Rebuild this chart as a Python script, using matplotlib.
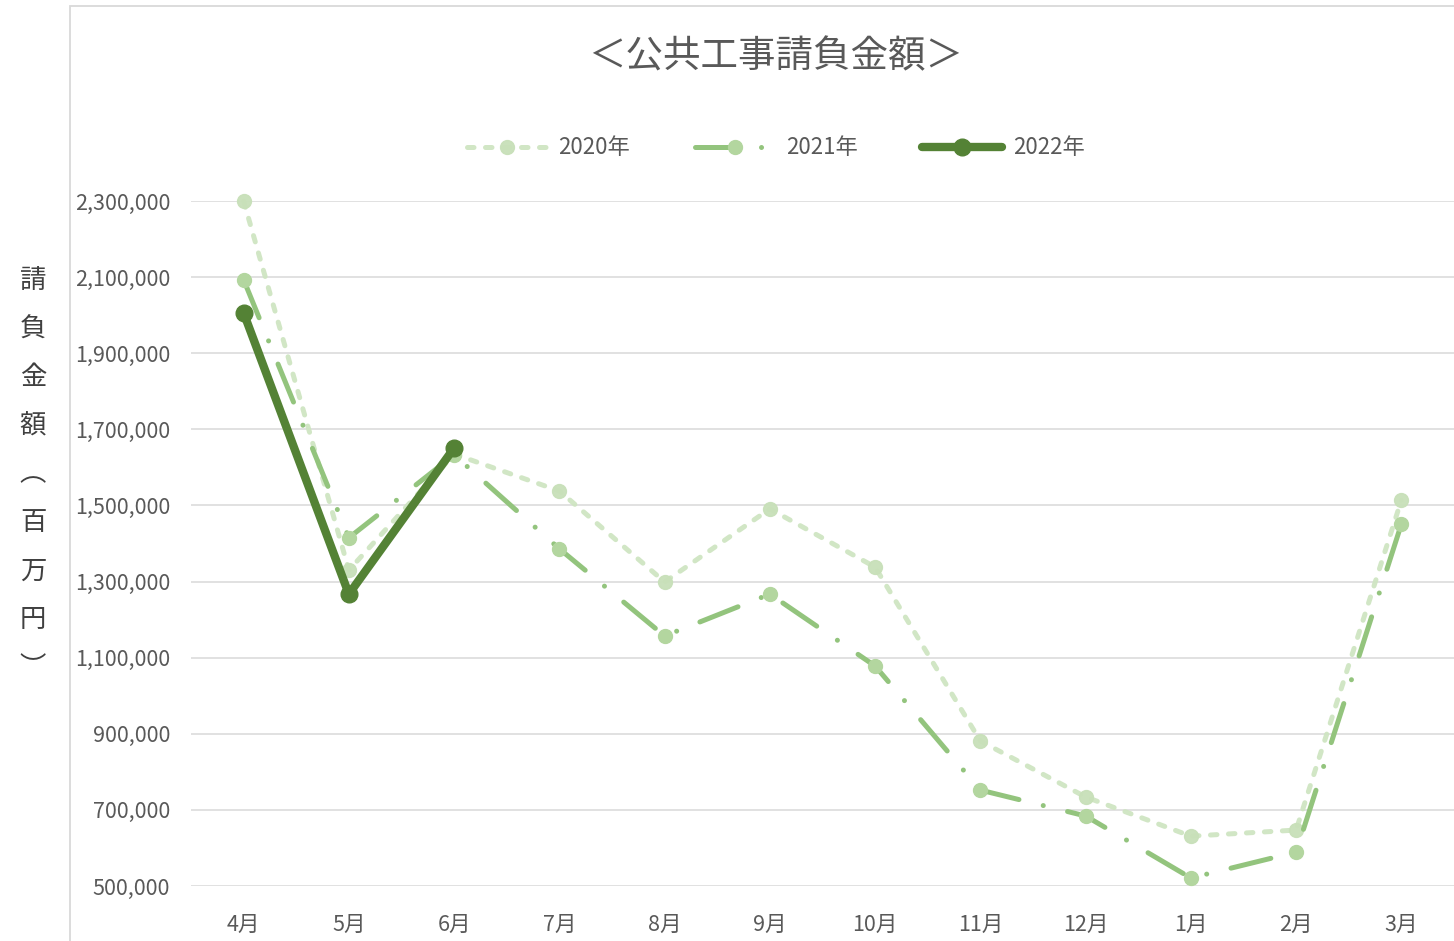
import matplotlib
matplotlib.use("Agg")
import matplotlib.pyplot as plt
from matplotlib.patches import Rectangle
from matplotlib.ticker import FuncFormatter

plt.rcParams['font.family'] = ['Noto Sans CJK JP', 'DejaVu Sans']

months = ['4月', '5月', '6月', '7月', '8月', '9月', '10月', '11月', '12月', '1月', '2月', '3月']
v2020 = [2300000, 1330000, 1635000, 1538000, 1299000, 1491000, 1338000, 881000, 734000, 631000, 647000, 1514000]
v2021 = [2093000, 1415000, 1633000, 1386000, 1157000, 1267000, 1078000, 752000, 684000, 521000, 589000, 1451000]
v2022 = [2006000, 1267000, 1651000]
series_names = ['2020年', '2021年', '2022年']
yticks = list(range(500000, 2300001, 200000))

W, H = 1454, 941
fig = plt.figure(figsize=(W / 100, H / 100), dpi=100)
fig.patch.set_facecolor('white')

# chart frame border
fig.add_artist(Rectangle((70 / W, -0.02), 1.2, (H - 6) / H + 0.02, transform=fig.transFigure,
                         fill=False, edgecolor='#d9d9d9', linewidth=1.3, clip_on=False))

ax = fig.add_axes([191 / W, (H - 886) / H, (1454 - 191) / W, (886 - 201) / H])
ax.set_facecolor('white')
for s in ax.spines.values():
    s.set_visible(False)

x = list(range(len(months)))
c20, c21, c22 = '#cfe5c2', '#93c47d', '#548235'

ax.plot(x, v2020, color=c20, lw=3.6, linestyle=(0, (1.3, 2.3)), dash_capstyle='round',
        marker='o', markersize=10, markerfacecolor='#c8e0b9', markeredgecolor='#c8e0b9',
        alpha=0.95, label=series_names[0], clip_on=False, zorder=3)
ax.plot(x, v2021, color=c21, lw=3.6, linestyle=(0, (8.2, 5, 0.01, 5)), dash_capstyle='round',
        marker='o', markersize=10, markerfacecolor='#b3d69f', markeredgecolor='#b3d69f',
        label=series_names[1], clip_on=False, zorder=4)
ax.plot(x[:len(v2022)], v2022, color=c22, lw=6.0, solid_capstyle='round',
        marker='o', markersize=12, markerfacecolor=c22, markeredgecolor=c22,
        label=series_names[2], clip_on=False, zorder=5)

ax.set_xlim(-0.5, len(months) - 0.5)
ax.set_ylim(500000, 2300000)
ax.set_yticks(yticks)
ax.yaxis.set_major_formatter(FuncFormatter(lambda v, p: f'{int(v):,}'))
ax.set_xticks(x)
ax.set_xticklabels(months)
ax.grid(axis='y', color='#d9d9d9', linewidth=1.1)
ax.set_axisbelow(True)
ax.tick_params(axis='both', length=0, labelsize=15.5, colors='#595959')
ax.tick_params(axis='y', pad=15)
ax.tick_params(axis='x', pad=20)

fig.text(776 / W, 1 - 57 / H, '＜公共工事請負金額＞', ha='center', va='center',
         fontsize=27, color='#595959')

fig.text(33 / W, 1 - 474 / H, '請\n負\n金\n額\n︵\n百\n万\n円\n︶', ha='center', va='center',
         fontsize=19, color='#404040', linespacing=2.02)

leg = fig.legend(loc='center', bbox_to_anchor=(776 / W, 1 - 148 / H), ncol=3, frameon=False,
                 fontsize=16, handlelength=3.6, columnspacing=2.9, handletextpad=0.5)
for t in leg.get_texts():
    t.set_color('#595959')

fig.savefig('out.png', dpi=100, facecolor='white')
